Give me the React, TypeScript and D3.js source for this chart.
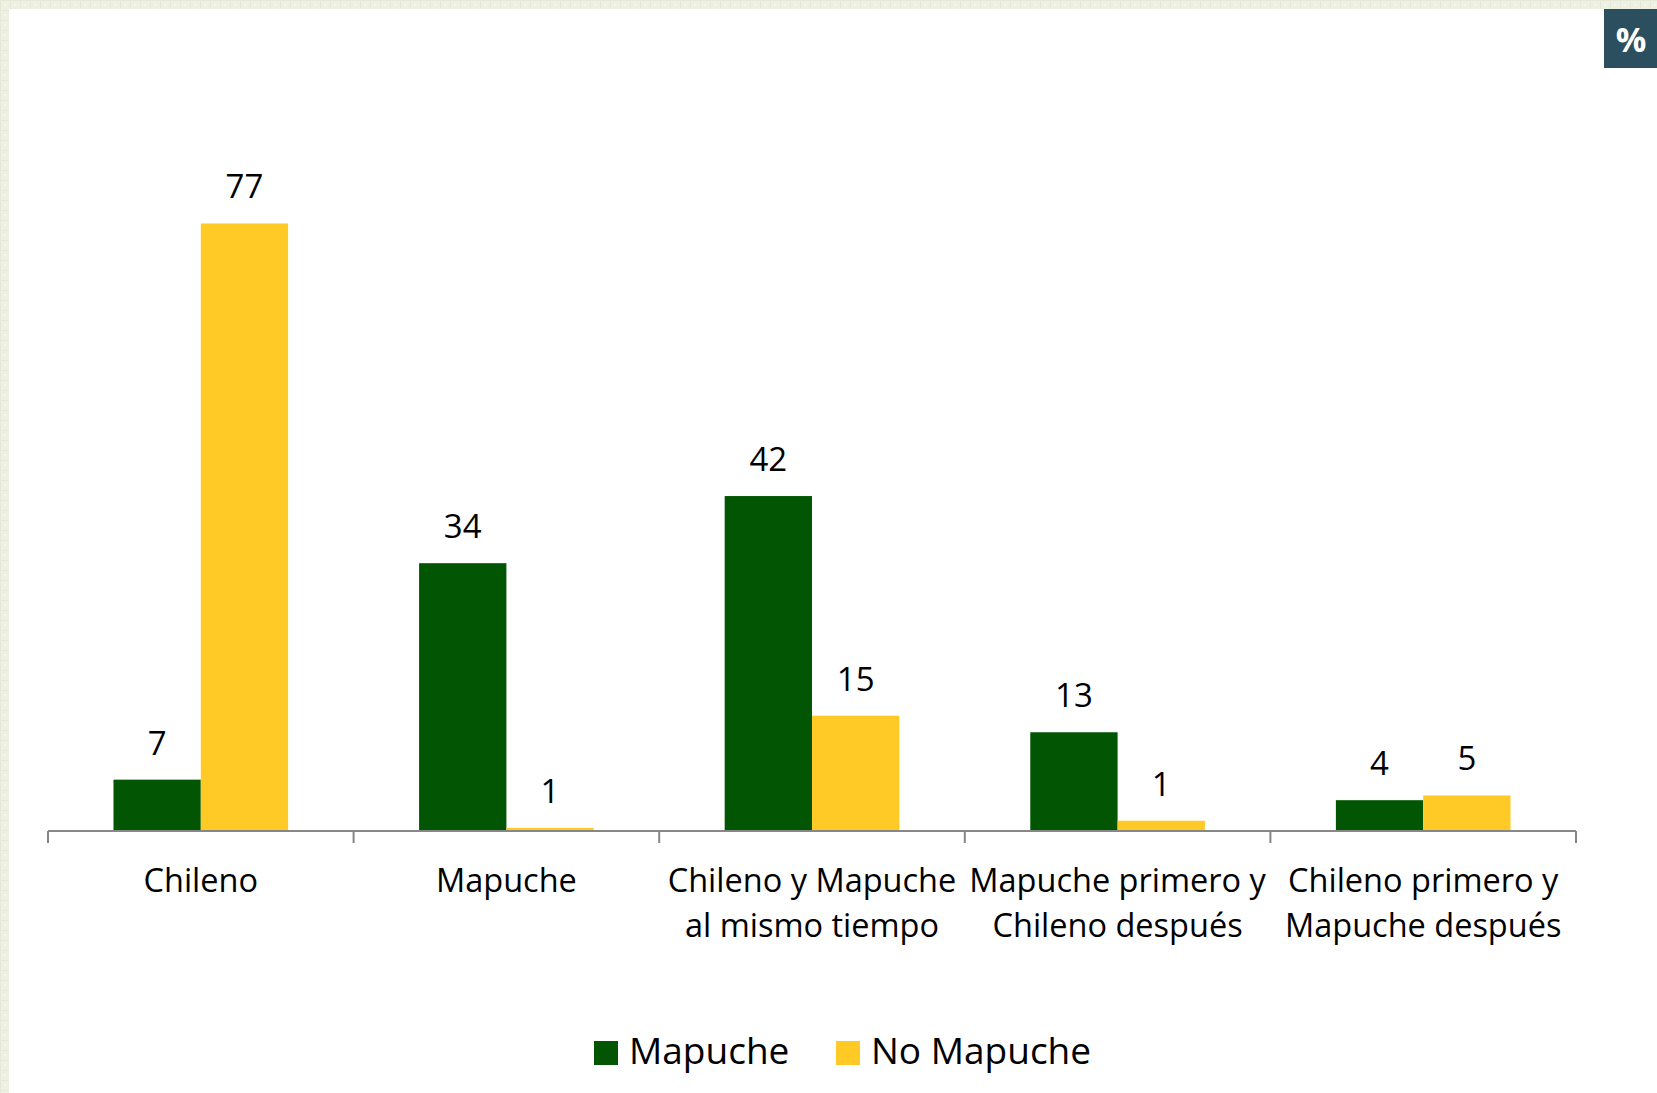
import React from "react";
import * as d3 from "d3";

const categories: string[][] = [
  ["Chileno"],
  ["Mapuche"],
  ["Chileno y Mapuche", "al mismo tiempo"],
  ["Mapuche primero y", "Chileno después"],
  ["Chileno primero y", "Mapuche después"],
];
const seriesNames = ["Mapuche", "No Mapuche"];
const mapucheValues = [6.5, 33.9, 42.4, 12.5, 3.9];
const noMapucheValues = [76.9, 0.4, 14.6, 1.3, 4.5];
const mapucheLabels = ["7", "34", "42", "13", "4"];
const noMapucheLabels = ["77", "1", "15", "1", "5"];
const seriesColors = ["#025502", "#FFCA25"];

const W = 1657;
const H = 1093;
const FONT = "'Open Sans', 'Noto Sans', sans-serif";

export default function App() {
  const axisY = 831;
  const x0 = d3
    .scaleBand<number>()
    .domain(categories.map((_, i) => i))
    .range([48, 1576])
    .paddingInner(0)
    .paddingOuter(0);
  const bw = x0.bandwidth();
  const barW = bw / 3.5;
  const x1 = d3
    .scaleBand<string>()
    .domain(seriesNames)
    .range([0.75 * barW, bw - 0.75 * barW])
    .padding(0);
  const y = d3.scaleLinear().domain([0, 90]).range([axisY, axisY - 90 * 7.9]);

  const seriesData = [
    { name: seriesNames[0], values: mapucheValues, labels: mapucheLabels, color: seriesColors[0] },
    { name: seriesNames[1], values: noMapucheValues, labels: noMapucheLabels, color: seriesColors[1] },
  ];

  const tickXs = [...categories.map((_, i) => x0(i) as number), 1576];

  return (
    <svg
      width={W}
      height={H}
      style={{ position: "absolute", left: 0, top: 0, background: "#ffffff" }}
      fontFamily={FONT}
    >
      <defs>
        <pattern id="bgpat" width="10" height="10" patternUnits="userSpaceOnUse">
          <rect width="10" height="10" fill="#eef1e2" />
          <rect x="0" y="0" width="10" height="1" fill="#e6ead8" />
          <rect x="0" y="0" width="1" height="10" fill="#e6ead8" />
          <rect x="4" y="4" width="2" height="2" fill="#f5f7ee" />
        </pattern>
      </defs>
      <rect x={0} y={0} width={W} height={H} fill="#ffffff" />
      <rect x={0} y={0} width={W} height={9} fill="url(#bgpat)" />
      <rect x={0} y={0} width={9} height={H} fill="url(#bgpat)" />

      {/* % badge */}
      <rect x={1604} y={9} width={53} height={59} fill="#2b4f5e" />
      <text
        x={1631}
        y={52}
        textAnchor="middle"
        fill="#ffffff"
        fontSize={34}
        fontWeight="bold"
        fontFamily={FONT}
      >
        %
      </text>

      {/* bars */}
      {seriesData.map((s) =>
        s.values.map((v, i) => {
          const bx = (x0(i) as number) + (x1(s.name) as number);
          const by = y(v);
          return (
            <rect
              key={s.name + i}
              x={bx}
              y={by}
              width={x1.bandwidth()}
              height={axisY - by}
              fill={s.color}
            />
          );
        })
      )}

      {/* axis */}
      <line x1={48} x2={1576} y1={axisY} y2={axisY} stroke="#878787" strokeWidth={2} />
      {tickXs.map((tx, i) => (
        <line key={"t" + i} x1={tx} x2={tx} y1={axisY} y2={axisY + 12} stroke="#878787" strokeWidth={2} />
      ))}

      {/* data labels */}
      {seriesData.map((s) =>
        s.values.map((v, i) => {
          const cx = (x0(i) as number) + (x1(s.name) as number) + x1.bandwidth() / 2;
          return (
            <text
              key={"l" + s.name + i}
              x={cx}
              y={y(v) - 25}
              textAnchor="middle"
              fontSize={33}
              fill="#000000"
            >
              {s.labels[i]}
            </text>
          );
        })
      )}

      {/* category labels */}
      {categories.map((lines, i) => {
        const cx = (x0(i) as number) + bw / 2;
        return (
          <text key={"c" + i} x={cx} textAnchor="middle" fontSize={32.5} fill="#000000">
            {lines.map((ln, j) => (
              <tspan key={j} x={cx} y={892 + j * 45}>
                {ln}
              </tspan>
            ))}
          </text>
        );
      })}

      {/* legend */}
      <rect x={594} y={1041} width={24} height={24} fill={seriesColors[0]} />
      <text x={629} y={1064} fontSize={37} fill="#000000">
        {seriesNames[0]}
      </text>
      <rect x={836} y={1041} width={24} height={24} fill={seriesColors[1]} />
      <text x={871} y={1064} fontSize={37} fill="#000000">
        {seriesNames[1]}
      </text>
    </svg>
  );
}
